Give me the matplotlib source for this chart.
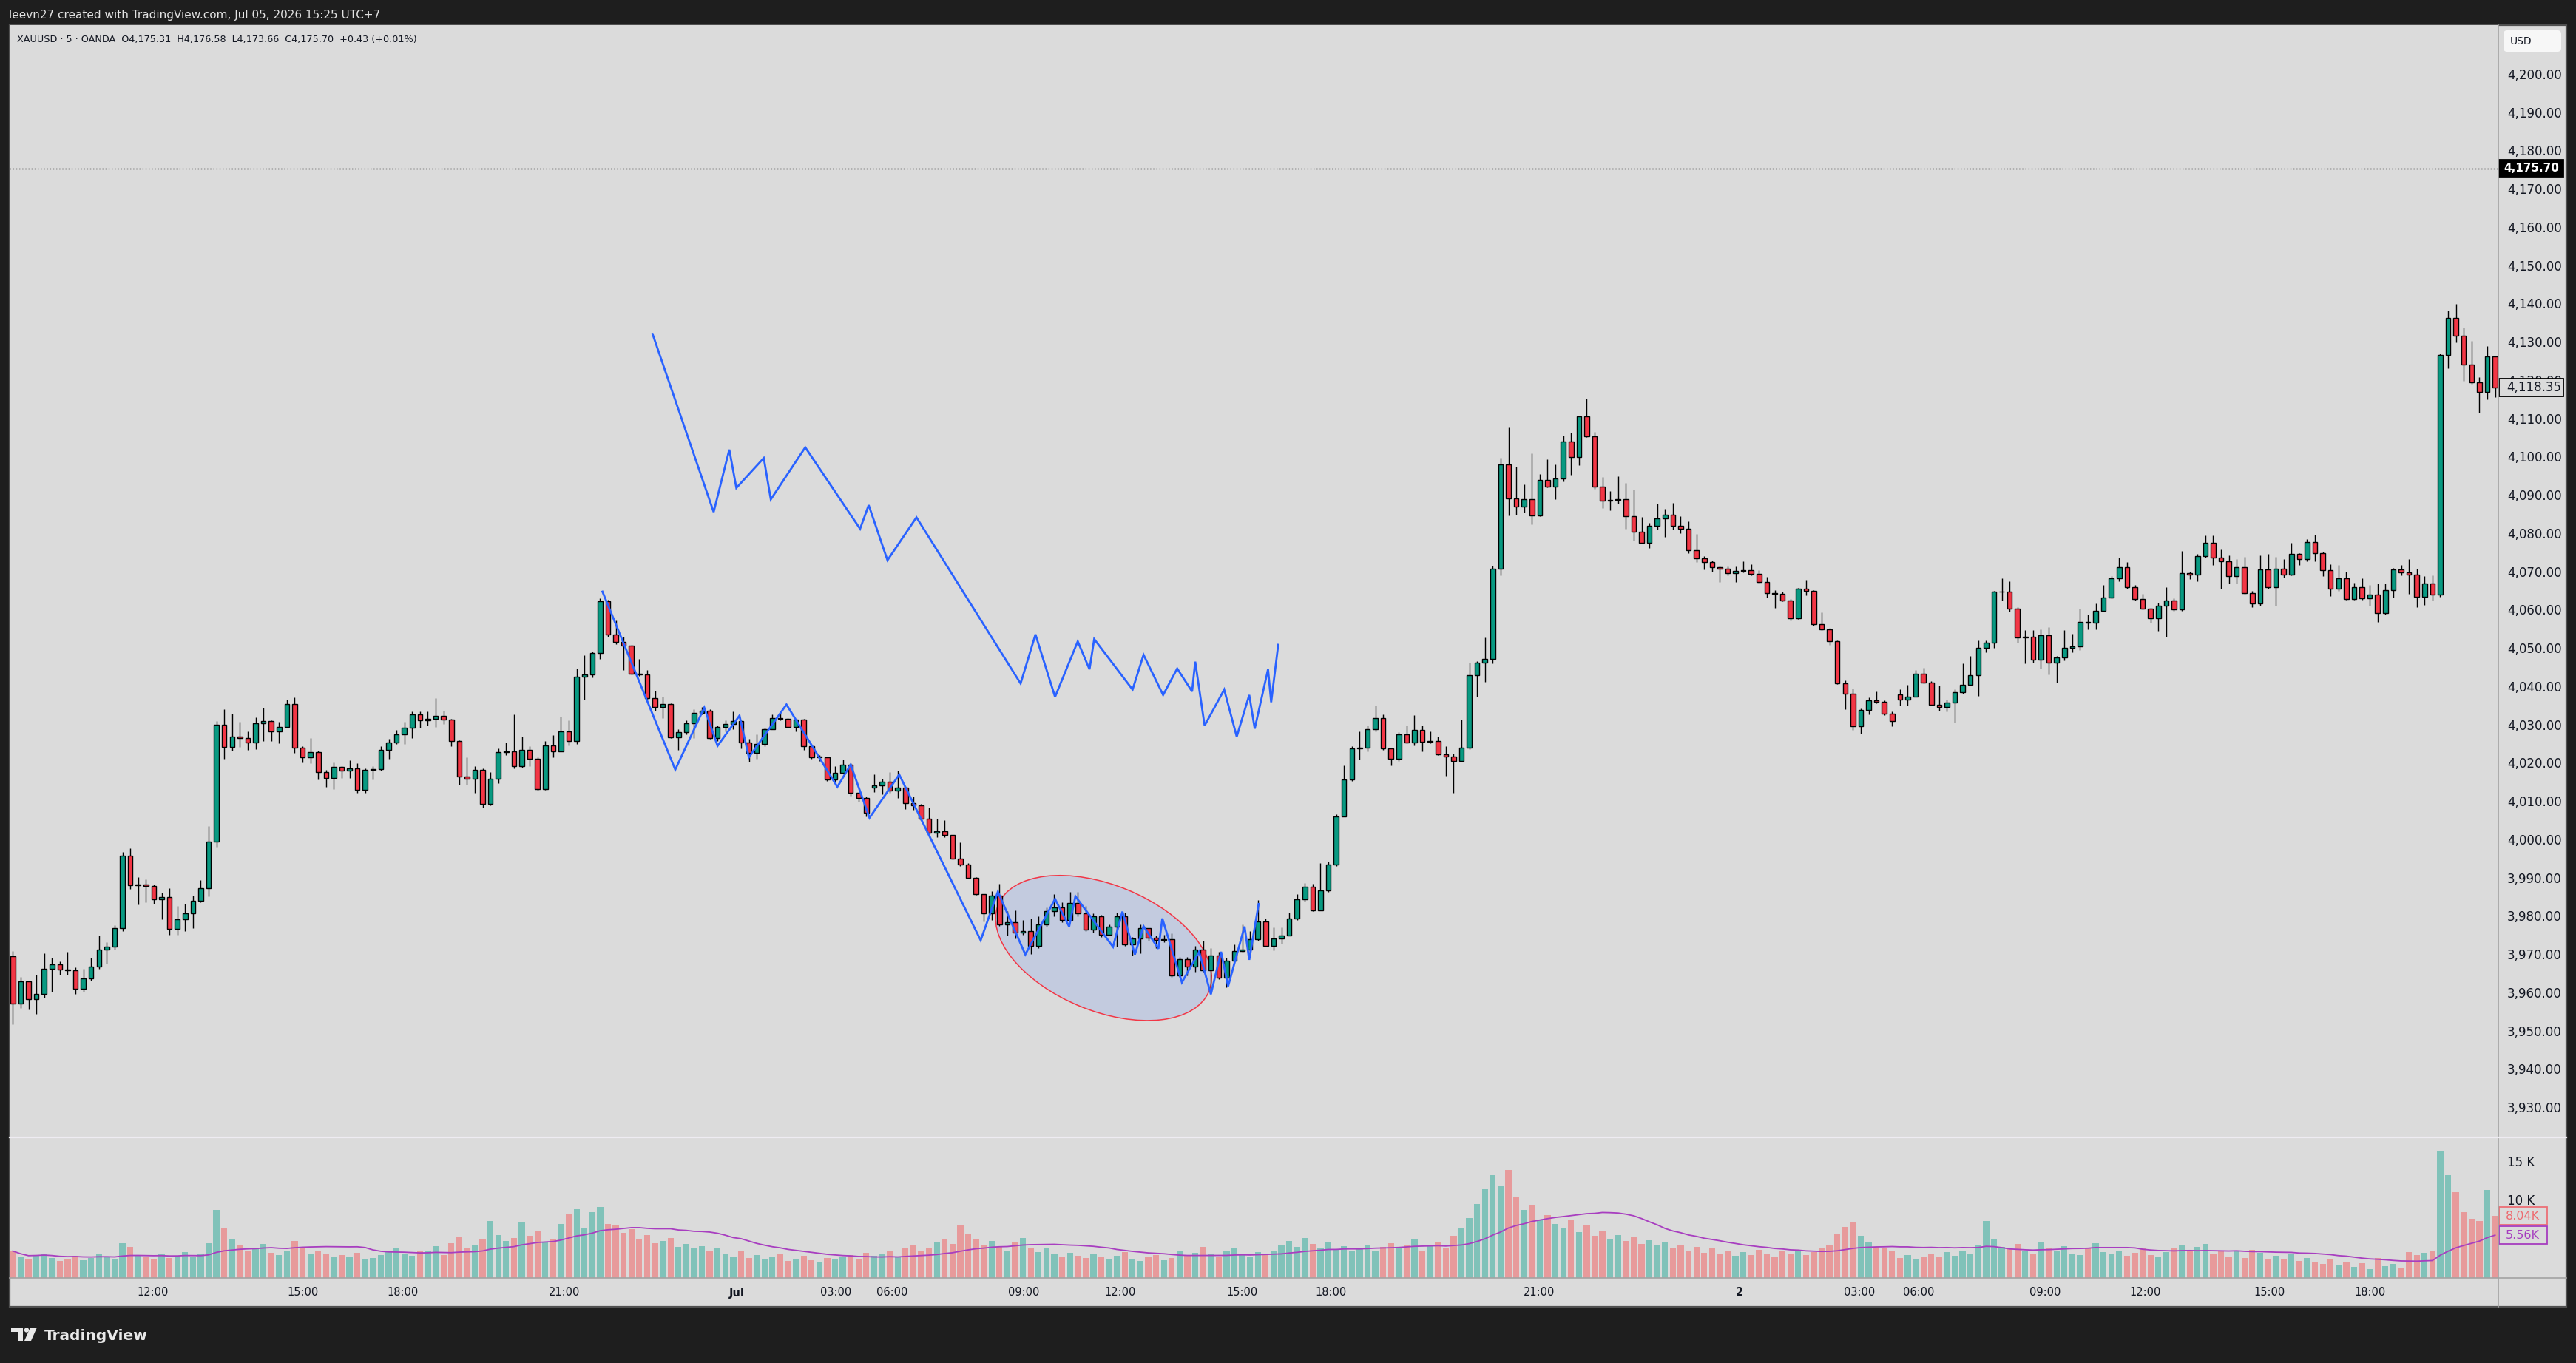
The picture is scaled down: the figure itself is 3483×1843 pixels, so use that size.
import numpy as np
import pandas as pd
import matplotlib
matplotlib.use("Agg")
import matplotlib.pyplot as plt
from matplotlib.patches import Rectangle, Ellipse, FancyBboxPatch, Polygon, Circle
from matplotlib.transforms import blended_transform_factory, IdentityTransform

# ------------------------------------------
# 1. DATA  (XAUUSD 5m, OANDA, ~2 bars per candle)
# ------------------------------------------
closes = [
    # Jun 30 morning -> afternoon
    3957.4, 3963.2, 3958.6, 3959.9, 3966.5, 3967.8, 3966.4, 3966.1, 3961.3, 3964.0,
    3967.1, 3971.5, 3972.3, 3977.1, 3996.2, 3988.4, 3988.6, 3988.2, 3984.8, 3985.3,
    3976.9, 3979.5, 3981.0, 3984.4, 3987.7, 3999.7, 4030.4, 4024.6, 4027.3, 4026.9,
    4025.7, 4030.7, 4031.3, 4028.6, 4029.8, 4035.7, 4024.4, 4021.9, 4023.2, 4018.0,
    4016.4, 4019.3, 4018.3, 4019.0, 4013.4, 4018.6, 4018.8,
    # evening, 21:00 spike and the slide into Jul 1
    4023.7, 4025.7, 4027.9, 4029.5, 4033.1, 4031.4, 4031.8, 4032.7, 4031.6, 4026.1,
    4016.7, 4016.3, 4018.6, 4009.6, 4016.3, 4023.1, 4023.3, 4019.5, 4023.7, 4021.5,
    4013.6, 4025.0, 4023.4, 4028.6, 4026.0, 4042.8, 4043.4, 4049.0, 4062.5, 4053.8,
    4051.9, 4050.9, 4043.7, 4043.4, 4037.2, 4034.9, 4035.8, 4027.1, 4028.4, 4030.7,
    4033.5, 4034.0, 4026.9, 4029.8, 4030.5, 4031.3, 4025.7, 4022.9, 4025.3, 4029.2,
    4032.1, 4031.8, 4029.7, 4031.6, 4024.7, 4021.8, 4021.9, 4016.0, 4017.8, 4019.8,
    4012.5, 4011.2, 4007.3, 4014.4, 4015.4, 4013.1, 4013.8, 4009.9, 4009.3, 4005.7,
    4002.2, 4002.5, 4001.5, 3995.4, 3993.8, 3990.3, 3986.1,
    # Jul 1 base (ellipse) and the rally
    3981.0, 3985.6, 3978.1, 3978.7, 3976.1, 3976.5, 3972.6, 3978.1, 3981.6, 3982.6,
    3979.4, 3983.7, 3981.0, 3976.8, 3980.3, 3975.5, 3977.6, 3980.3, 3972.9, 3974.4,
    3977.1, 3974.7, 3974.0, 3974.2, 3964.9, 3969.1, 3967.1, 3971.6, 3966.2, 3970.0,
    3964.2, 3968.7, 3971.2, 3971.6, 3974.2, 3979.0, 3972.6, 3974.5, 3975.2, 3979.7,
    3984.8, 3988.0, 3981.9, 3987.1, 3993.8, 4006.4, 4016.0, 4024.1, 4024.4, 4029.1,
    4032.1, 4024.1, 4021.4, 4027.8, 4025.7, 4028.9, 4025.9, 4026.0, 4022.5, 4022.1,
    4020.9, 4024.3,
    # Jul 1 evening breakout and fade
    4043.3, 4046.5, 4047.6, 4071.0, 4098.3, 4089.5, 4087.3, 4089.3, 4085.0, 4094.2,
    4092.5, 4094.7, 4104.4, 4100.3, 4110.8, 4105.7, 4092.6, 4088.8, 4089.0,
    4089.3, 4084.8, 4080.8, 4077.9, 4082.2, 4084.2, 4085.1, 4082.2, 4081.6, 4076.0,
    4073.8, 4072.9, 4071.4, 4071.1, 4070.0, 4070.5, 4070.7, 4069.8, 4067.7, 4064.8,
    4064.6, 4062.8, 4058.1, 4065.9, 4065.3, 4056.5, 4055.2, 4052.1, 4041.1, 4038.5,
    4029.9, 4034.1, 4036.7, 4036.4, 4033.3, 4031.3,
    # Jul 2 session
    4036.9, 4037.6, 4043.7, 4041.4, 4035.6, 4034.9, 4036.1, 4038.9, 4040.8, 4043.2,
    4050.4, 4051.8, 4065.0, 4065.1, 4060.7, 4053.1, 4053.3, 4047.4, 4053.6, 4046.6,
    4047.9, 4050.4, 4050.8, 4057.2, 4056.9, 4060.1, 4063.6, 4068.6, 4071.4, 4066.2,
    4063.2, 4060.6, 4058.2, 4061.4, 4062.8, 4060.4, 4069.9, 4069.5, 4074.4, 4077.9,
    4073.9, 4073.1, 4069.1, 4071.5, 4064.8, 4062.1, 4070.8, 4066.2, 4071.0, 4069.6,
    4074.9, 4073.6, 4078.1, 4075.2, 4070.7, 4065.8, 4068.5, 4063.2, 4066.2, 4063.4,
    4064.3, 4059.4, 4065.4, 4070.8, 4070.2, 4069.6, 4063.8, 4067.2, 4064.3,
    # late spike
    4127.0, 4136.6, 4132.0, 4124.4, 4119.8, 4117.3, 4126.5, 4118.35,
]

highs = [
    3971.1, 3964.4, 3963.5, 3965.0, 3970.6, 3969.5, 3968.5, 3971.0, 3967.0, 3966.5,
    3969.5, 3975.3, 3973.5, 3978.0, 3997.0, 3998.1, 3990.5, 3990.0, 3988.5, 3986.5,
    3987.6, 3983.0, 3983.5, 3985.7, 3989.8, 4003.8, 4031.2, 4034.3, 4033.2, 4031.0,
    4028.5, 4032.3, 4034.8, 4031.4, 4031.0, 4036.8, 4037.5, 4024.8, 4026.8, 4023.5,
    4018.5, 4020.5, 4019.5, 4021.0, 4020.2, 4019.0, 4019.5,
    4024.7, 4026.6, 4028.9, 4031.1, 4033.8, 4033.7, 4033.7, 4037.2, 4034.0, 4031.8,
    4026.3, 4021.8, 4019.5, 4018.9, 4017.9, 4024.1, 4025.7, 4033.1, 4027.3, 4024.7,
    4021.8, 4026.0, 4027.6, 4032.4, 4031.5, 4045.0, 4048.4, 4049.5, 4063.3, 4063.0,
    4057.5, 4053.3, 4051.1, 4047.5, 4044.6, 4039.2, 4037.6, 4036.0, 4029.1, 4031.5,
    4034.3, 4035.0, 4034.3, 4030.2, 4031.5, 4033.7, 4031.5, 4026.6, 4027.9, 4029.5,
    4033.1, 4033.7, 4032.1, 4031.9, 4031.9, 4024.8, 4022.3, 4022.1, 4019.5, 4021.2,
    4020.2, 4012.6, 4011.5, 4017.3, 4016.3, 4018.0, 4018.3, 4014.1, 4011.5, 4009.6,
    4008.6, 4005.7, 4005.4, 4000.9, 3999.6, 3994.1, 3990.5,
    3985.5, 3986.8, 3988.7, 3981.7, 3981.9, 3979.4, 3979.7, 3980.3, 3982.6, 3986.1,
    3983.9, 3986.7, 3986.7, 3982.9, 3981.0, 3980.6, 3978.1, 3981.3, 3981.3, 3974.8,
    3978.1, 3977.1, 3975.3, 3975.5, 3975.8, 3969.7, 3969.7, 3972.6, 3973.9, 3971.9,
    3971.0, 3969.4, 3972.9, 3978.1, 3976.5, 3984.5, 3979.7, 3977.4, 3977.4, 3981.3,
    3986.1, 3989.0, 3988.7, 3994.2, 3994.5, 4007.0, 4019.6, 4024.7, 4028.6, 4030.2,
    4035.3, 4033.1, 4024.4, 4028.3, 4030.2, 4032.8, 4030.2, 4028.6, 4027.3, 4024.7,
    4022.8, 4031.7,
    4046.5, 4046.9, 4053.2, 4071.8, 4100.0, 4107.9, 4097.8, 4093.1, 4101.3, 4095.8,
    4099.6, 4098.4, 4105.9, 4106.6, 4111.0, 4115.5, 4106.8, 4095.0, 4091.4,
    4095.2, 4093.5, 4091.7, 4084.7, 4083.0, 4088.1, 4086.7, 4088.2, 4084.8, 4083.5,
    4080.1, 4074.3, 4073.3, 4071.7, 4071.7, 4071.7, 4073.0, 4072.3, 4070.7, 4069.0,
    4065.5, 4065.1, 4063.2, 4066.1, 4068.1, 4065.4, 4059.6, 4055.7, 4052.4, 4041.9,
    4039.7, 4034.6, 4037.4, 4039.1, 4036.7, 4033.7,
    4039.5, 4040.8, 4044.6, 4045.1, 4041.7, 4040.5, 4036.9, 4039.5, 4046.3, 4048.2,
    4052.4, 4052.4, 4065.3, 4068.5, 4067.8, 4061.0, 4055.0, 4055.0, 4055.3, 4055.9,
    4048.2, 4055.0, 4054.0, 4060.7, 4059.1, 4062.0, 4066.8, 4069.1, 4073.9, 4072.9,
    4066.8, 4064.6, 4060.9, 4062.2, 4066.2, 4063.3, 4075.8, 4070.4, 4074.9, 4079.7,
    4079.7, 4076.2, 4074.6, 4073.6, 4074.2, 4065.2, 4074.6, 4074.9, 4074.2, 4073.6,
    4077.8, 4075.2, 4078.8, 4080.0, 4075.5, 4072.3, 4072.0, 4070.4, 4067.5, 4068.5,
    4066.8, 4067.2, 4067.2, 4071.3, 4072.0, 4073.6, 4071.0, 4069.1, 4069.4,
    4127.3, 4138.6, 4140.2, 4134.0, 4130.5, 4121.2, 4129.2, 4126.8,
]

lows = [
    3952.1, 3956.3, 3956.0, 3954.7, 3959.0, 3960.5, 3965.0, 3965.0, 3960.0, 3960.5,
    3963.5, 3966.5, 3968.0, 3971.5, 3976.5, 3987.5, 3983.3, 3984.0, 3983.5, 3979.5,
    3975.5, 3975.5, 3976.5, 3977.2, 3984.0, 3985.5, 3998.5, 4021.5, 4023.5, 4024.5,
    4023.7, 4024.0, 4026.0, 4026.0, 4025.4, 4029.5, 4023.0, 4020.4, 4020.3, 4016.0,
    4014.0, 4013.6, 4016.5, 4016.5, 4012.6, 4012.5, 4016.0,
    4018.3, 4021.5, 4025.3, 4025.3, 4026.9, 4029.5, 4030.2, 4029.8, 4030.5, 4024.7,
    4014.7, 4014.7, 4012.6, 4008.6, 4009.3, 4015.0, 4022.4, 4018.9, 4019.2, 4019.5,
    4013.1, 4013.4, 4021.8, 4023.4, 4025.0, 4025.3, 4036.9, 4042.7, 4047.5, 4053.3,
    4051.4, 4044.6, 4043.5, 4043.0, 4036.9, 4034.0, 4032.1, 4026.9, 4023.7, 4027.9,
    4026.9, 4033.1, 4026.6, 4026.0, 4028.6, 4029.2, 4024.1, 4020.7, 4021.5, 4024.7,
    4029.2, 4031.5, 4029.5, 4028.6, 4023.7, 4021.5, 4020.8, 4015.7, 4015.4, 4017.6,
    4011.8, 4010.2, 4006.4, 4012.8, 4012.1, 4012.5, 4011.2, 4008.3, 4008.0, 4005.4,
    4001.9, 4000.9, 4000.9, 3995.1, 3993.5, 3990.1, 3985.8,
    3979.0, 3979.3, 3977.7, 3975.2, 3974.5, 3975.5, 3970.5, 3972.0, 3977.5, 3980.3,
    3978.7, 3980.3, 3980.3, 3976.5, 3976.1, 3974.8, 3975.2, 3972.3, 3972.6, 3970.0,
    3970.7, 3973.9, 3972.0, 3973.6, 3964.5, 3964.5, 3964.9, 3965.8, 3965.8, 3960.1,
    3963.9, 3961.7, 3968.7, 3971.0, 3969.4, 3973.9, 3972.3, 3971.3, 3973.2, 3975.5,
    3979.4, 3984.2, 3981.6, 3985.5, 3986.7, 3993.5, 4006.4, 4015.7, 4021.2, 4023.4,
    4028.6, 4023.8, 4019.6, 4020.9, 4025.4, 4025.0, 4023.4, 4025.4, 4022.3, 4017.0,
    4012.6, 4020.9,
    4024.0, 4037.7, 4041.6, 4046.3, 4069.4, 4084.9, 4085.2, 4085.7, 4082.6, 4084.8,
    4092.4, 4089.3, 4093.8, 4095.6, 4098.1, 4105.5, 4091.9, 4087.0, 4086.3,
    4088.1, 4081.6, 4078.5, 4077.8, 4076.5, 4081.4, 4079.4, 4081.4, 4080.3, 4075.2,
    4072.8, 4070.9, 4070.3, 4067.6, 4069.4, 4067.6, 4070.2, 4069.4, 4067.4, 4063.5,
    4060.8, 4062.5, 4057.6, 4058.0, 4064.1, 4056.3, 4055.0, 4051.1, 4041.0, 4034.4,
    4028.9, 4028.0, 4033.0, 4036.0, 4032.8, 4029.9,
    4035.3, 4035.3, 4037.6, 4041.1, 4035.3, 4034.0, 4033.8, 4030.8, 4038.5, 4040.5,
    4037.9, 4049.2, 4050.4, 4062.7, 4059.8, 4051.7, 4046.3, 4046.6, 4045.0, 4043.5,
    4041.4, 4047.2, 4049.2, 4049.8, 4055.3, 4055.3, 4059.8, 4063.3, 4067.8, 4065.9,
    4062.7, 4060.4, 4056.9, 4054.9, 4053.3, 4060.1, 4060.1, 4068.4, 4067.8, 4073.9,
    4072.0, 4065.9, 4067.2, 4067.2, 4064.6, 4061.0, 4061.4, 4065.9, 4061.4, 4068.8,
    4069.4, 4072.0, 4073.1, 4073.0, 4069.1, 4064.0, 4065.2, 4063.0, 4063.0, 4063.0,
    4061.4, 4057.2, 4059.1, 4063.6, 4069.4, 4064.6, 4061.0, 4061.7, 4062.8,
    4063.8, 4123.5, 4130.3, 4120.2, 4119.3, 4111.9, 4115.3, 4115.9,
]

first_open = 3969.8
session_opens = {110: 4013.9, 241: 4038.2}   # re-open after the daily break

volumes = [  # thousands
    3.5, 2.8, 2.4, 3.0, 3.2, 2.6, 2.2, 2.5, 2.9, 2.3,
    2.6, 3.1, 2.8, 2.4, 4.5, 4.0,
    3.0, 2.7, 2.5, 3.2, 2.6, 2.9, 3.4, 2.8, 3.1, 4.5, 8.8, 6.5,
    5.0, 4.2, 3.6, 3.8, 4.4, 3.3, 3.0, 3.5, 4.8, 4.0, 3.2, 3.6, 3.1, 2.7, 3.0, 2.8, 3.3, 2.5, 2.6,
    3.0, 3.4, 3.8, 3.2, 2.9, 3.5, 3.6, 4.1, 3.0, 4.5, 5.4, 3.8, 4.2, 5.0, 7.4, 5.6,
    4.8, 5.2, 7.2, 5.5, 6.2, 4.6, 5.0, 7.0, 8.3,
    8.9, 6.4, 8.6, 9.2, 7.0,
    6.8, 5.9, 6.3, 5.0, 5.6, 4.5, 4.8, 5.2, 4.0, 4.4, 3.8, 4.1, 3.5, 3.9,
    3.2, 2.8, 3.5, 2.6, 3.0, 2.4, 2.7, 3.1, 2.2, 2.5, 2.9, 2.3, 2.0, 2.6, 2.4, 2.8, 3.0, 2.5, 3.3, 2.9,
    3.1, 3.6, 2.8, 3.9, 4.2, 3.5, 3.8, 4.6, 5.0, 4.4, 6.8, 5.8, 5.0, 4.2, 4.8,
    4.0, 3.5, 4.6, 5.2, 3.8, 3.4, 3.9, 3.1, 2.8, 3.3, 2.9, 2.6, 3.2, 2.7, 2.4, 2.9, 3.4, 2.5,
    2.2, 2.8, 3.0, 2.3, 2.6, 3.6, 2.9, 3.3, 4.0, 3.2, 2.7, 3.5, 3.9, 3.1, 2.8, 3.4, 3.0,
    3.6, 4.2, 4.8, 4.0, 5.2, 4.4, 3.9, 4.6, 3.7, 4.1, 3.5, 3.9, 4.3, 3.6, 4.0,
    4.5, 3.8, 4.2, 5.0, 3.6, 4.1, 4.7, 3.9, 5.5, 6.5,
    7.8, 9.6, 11.5, 13.4, 12.0, 14.0, 10.5,
    8.8, 9.5, 7.6, 8.2, 7.0, 6.4, 7.5, 6.0, 6.8, 5.5, 6.2, 5.0, 5.6, 4.8, 5.3, 4.4, 4.9, 4.2,
    4.6, 3.9, 4.3, 3.6, 4.0, 3.3, 3.8, 3.1, 3.5, 2.9, 3.4, 3.0, 3.7, 3.2, 2.8, 3.5, 3.1, 3.6,
    3.0, 3.4, 3.8, 4.2,
    5.8, 6.6, 7.2, 5.5, 4.6, 4.0, 3.8, 3.5,
    2.6, 3.0, 2.4, 2.8, 3.2, 2.7, 3.4, 2.9, 3.6, 3.1, 4.2, 7.4, 5.0, 4.0, 3.8, 4.4, 3.5, 3.2, 4.6, 3.9,
    3.5, 4.1, 3.2, 3.0, 3.8, 4.5, 3.4, 3.1, 3.6, 2.9, 3.3, 3.9, 3.0, 2.7, 3.4, 3.8, 4.2, 3.5, 4.0, 4.4,
    3.2, 3.6, 2.8, 3.5, 2.6, 3.7, 3.3, 2.4, 2.9, 2.5, 3.1, 2.2, 2.6, 2.0, 1.8, 2.4, 1.6, 2.1, 1.4,
    1.9, 1.2, 2.6, 1.5, 1.8, 1.3, 3.4, 3.0, 3.3, 3.6,
    16.4, 13.4, 11.2, 8.6, 7.7, 7.4, 11.4, 8.04,
]

# time axis (candle index -> label)
tick_pos = [17.9, 37.0, 49.8, 70.4, 92.5, 105.1, 112.3, 129.1, 141.4, 157.0,
            168.3, 194.9, 220.5, 235.8, 243.4, 259.5, 272.3, 288.2, 301.0]
tick_labels = ["12:00", "15:00", "18:00", "21:00", "Jul", "03:00", "06:00", "09:00", "12:00", "15:00",
               "18:00", "21:00", "2", "03:00", "06:00", "09:00", "12:00", "15:00", "18:00"]

# hand drawn zigzag (path traced on the candles) and its copy projected above
path_x = [75.3, 84.6, 88.3, 90.0, 92.8, 94.0, 98.8, 105.3, 107.0, 109.4, 113.2, 123.6, 125.8,
          129.3, 133.1, 134.9, 135.7, 140.5, 141.7, 143.3, 144.4, 146.3, 146.8, 149.3, 151.5,
          153.0, 154.3, 155.2, 157.3, 157.9, 159.1]
path_y = [4065.1, 4018.6, 4034.8, 4024.8, 4032.7, 4021.8, 4035.6, 4014.1, 4019.9, 4006.0, 4017.3,
          3974.0, 3986.7, 3970.3, 3984.8, 3977.6, 3985.5, 3972.3, 3981.5, 3970.3, 3977.7, 3971.8,
          3979.7, 3963.0, 3971.0, 3959.9, 3971.0, 3962.0, 3977.6, 3968.9, 3983.5]
copy_x = [81.7, 89.5, 91.5, 92.4, 95.9, 96.8, 101.2, 108.2, 109.3, 111.7, 115.4, 128.7, 130.6,
          133.1, 136.0, 137.5, 138.1, 143.0, 144.4, 146.9, 148.7, 150.6, 151.0, 152.2, 154.7,
          156.3, 157.9, 158.6, 160.3, 160.7, 161.6]
copy_y = [4132.4, 4085.9, 4102.2, 4092.2, 4100.0, 4089.2, 4102.8, 4081.5, 4087.7, 4073.3, 4084.5,
          4041.1, 4053.9, 4037.6, 4052.1, 4044.8, 4052.7, 4039.5, 4048.6, 4038.1, 4045.0, 4039.0,
          4046.8, 4030.1, 4039.5, 4027.2, 4038.1, 4029.3, 4044.8, 4036.2, 4051.2]

ellipse_center = (139.3, 3972.0)

last_price = 4175.70
bar_close = 4118.35
vol_last = 8.04

# ------------------------------------------
# 2. PREP
# ------------------------------------------
closes = np.array(closes)
highs = np.array(highs)
lows = np.array(lows)
volumes = np.array(volumes)
opens = np.r_[first_open, closes[:-1]]
for i, v in session_opens.items():
    opens[i] = v
highs = np.maximum(highs, np.maximum(opens, closes))
lows = np.minimum(lows, np.minimum(opens, closes))
x = np.arange(len(closes))
up = closes >= opens
vol_ma = pd.Series(volumes).rolling(20, min_periods=1).mean().values

# ------------------------------------------
# 3. FIGURE (pixel layout of the TradingView snapshot)
# ------------------------------------------
W, H = 3483, 1843
BG = "#dbdbdb"
fig = plt.figure(figsize=(W / 100, H / 100), dpi=100, facecolor="#1e1e1e")


def fx(px):
    return px / W


def fy(py):
    return 1 - py / H


fig.patches.append(Rectangle((fx(13), fy(1767)), (3470 - 13) / W, (1767 - 34) / H,
                             transform=fig.transFigure, facecolor=BG, edgecolor="#505050",
                             linewidth=1.6, zorder=-5))

ax = fig.add_axes([fx(13), fy(1538), (3378 - 13) / W, (1538 - 34) / H])
axv = fig.add_axes([fx(13), fy(1728), (3378 - 13) / W, (1728 - 1538) / H])
for a in (ax, axv):
    a.set_facecolor(BG)
    for s in a.spines.values():
        s.set_visible(False)
    a.set_xlim(-0.41, 317.42)
ax.set_ylim(3922.5, 4213.1)
axv.set_ylim(0, 18.27)
ax.set_xticks([])
ax.set_yticks([])
axv.set_yticks([])

# separators
fig.add_artist(plt.Line2D([fx(3378), fx(3378)], [fy(34), fy(1767)], transform=fig.transFigure,
                          color="#a3a3a3", lw=1.2, zorder=1))
fig.add_artist(plt.Line2D([fx(13), fx(3470)], [fy(1538), fy(1538)], transform=fig.transFigure,
                          color="#eeecf2", lw=1.6, zorder=1))
fig.add_artist(plt.Line2D([fx(13), fx(3470)], [fy(1728), fy(1728)], transform=fig.transFigure,
                          color="#a3a3a3", lw=1.2, zorder=1))

# candles
ax.vlines(x, lows, highs, color="black", lw=1.0, zorder=3)
body_lo = np.minimum(opens, closes)
body_h = np.maximum(np.abs(closes - opens), 0.15)
ax.bar(x, body_h, bottom=body_lo, width=0.62, color=np.where(up, "#089981", "#f23645"),
       edgecolor="black", linewidth=1.0, zorder=4)

# current price line
ax.axhline(last_price, color="black", lw=1.0, ls=(0, (1, 2)), zorder=2)

# zigzags
ax.plot(path_x, path_y, color="#2962ff", lw=2.0, zorder=6, solid_joinstyle="miter")
ax.plot(copy_x, copy_y, color="#2962ff", lw=2.0, zorder=6, solid_joinstyle="miter")

# ellipse (drawn in pixel space so the tilt matches)
cx, cy = ax.transData.transform(ellipse_center)
ax.add_patch(Ellipse((cx, cy), 2 * 154, 2 * 85, angle=-22.4, transform=IdentityTransform(),
                     facecolor=(41 / 255, 98 / 255, 1.0, 0.13), edgecolor="#f23645",
                     linewidth=1.1, zorder=1))

# volume
axv.bar(x, volumes, width=0.78, color=np.where(up, "#80c2b9", "#e79a9b"), zorder=2)
axv.plot(x, vol_ma, color="#a83ec0", lw=1.3, zorder=3)

# ------------------------------------------
# 4. SCALES / LABELS
# ------------------------------------------
TXT = "#131722"
tr_p = blended_transform_factory(fig.transFigure, ax.transData)
for v in np.arange(3930, 4201, 10):
    ax.text(fx(3390), v, f"{v:,.2f}", transform=tr_p, fontsize=12, color=TXT,
            va="center", ha="left", zorder=3)

tr_v = blended_transform_factory(fig.transFigure, axv.transData)
for v in (10, 15):
    axv.text(fx(3390), v, f"{v} K", transform=tr_v, fontsize=12, color=TXT,
             va="center", ha="left")


def value_box(a, tr, y, h, text, fc, ec, tc, x1=3466, bold=False, size=12, tx=3389):
    a.add_patch(Rectangle((fx(3379), y - h / 2), (x1 - 3379) / W, h, transform=tr,
                          facecolor=fc, edgecolor=ec, linewidth=1.3, clip_on=False, zorder=10))
    a.text(fx(tx), y, text, transform=tr, fontsize=size, color=tc, va="center", ha="left",
           fontweight="bold" if bold else "normal", zorder=11, clip_on=False)


value_box(ax, tr_p, last_price, 24 / 5.175, f"{last_price:,.2f}", "black", "black", "white",
          bold=True, size=11, tx=3385)
value_box(ax, tr_p, bar_close, 24 / 5.175, f"{bar_close:,.2f}", BG, "black", TXT)
value_box(axv, tr_v, vol_last, 24 / 10.4, f"{vol_last:.2f}K", BG, "#ec6f76", "#ee6a70",
          x1=3444, size=11.5, tx=3388)
value_box(axv, tr_v, vol_ma[-1], 24 / 10.4, f"{vol_ma[-1]:.2f}K", BG, "#a63dbf", "#a63dbf",
          x1=3444, size=11.5, tx=3388)

# USD chip
fig.patches.append(FancyBboxPatch((3385, H - 70), 78, 29, boxstyle="round,pad=0,rounding_size=5",
                                  transform=IdentityTransform(), facecolor="#f7f7f7",
                                  edgecolor="none", zorder=1))
fig.text(fx(3394), fy(55.5), "USD", fontsize=10, color=TXT, va="center", ha="left", zorder=5)

# time axis
axv.set_xticks(tick_pos)
axv.set_xticklabels(tick_labels)
axv.tick_params(axis="x", length=0, pad=9, labelsize=10.5, labelcolor=TXT)
for lab in axv.get_xticklabels():
    if lab.get_text() in ("Jul", "2"):
        lab.set_fontweight("bold")

# header and legend
fig.text(fx(12), fy(21), "leevn27 created with TradingView.com, Jul 05, 2026 15:25 UTC+7",
         fontsize=11, color="#e2e2e2", va="center", ha="left",
         family=["Liberation Sans Narrow", "DejaVu Sans"])
fig.text(fx(23), fy(54), "XAUUSD · 5 · OANDA  O4,175.31  H4,176.58  L4,173.66  C4,175.70  +0.43 (+0.01%)",
         fontsize=9.2, color=TXT, va="center", ha="left", zorder=5)

# TradingView mark
logo = [
    Polygon([(15, H - 1795), (31, H - 1795), (31, H - 1813), (24, H - 1813), (24, H - 1801),
             (15, H - 1801)], closed=True),
    Circle((36, H - 1798.5), 3.2),
    Polygon([(41, H - 1795), (50, H - 1795), (42, H - 1813), (33, H - 1813)], closed=True),
]
for p in logo:
    p.set_transform(IdentityTransform())
    p.set_facecolor("#e8e8e8")
    p.set_edgecolor("none")
    fig.patches.append(p)
fig.text(fx(60), fy(1806), "TradingView", fontsize=14.5, fontweight="bold", color="#e8e8e8",
         va="center", ha="left")

fig.savefig("out.png", dpi=100, facecolor=fig.get_facecolor())
